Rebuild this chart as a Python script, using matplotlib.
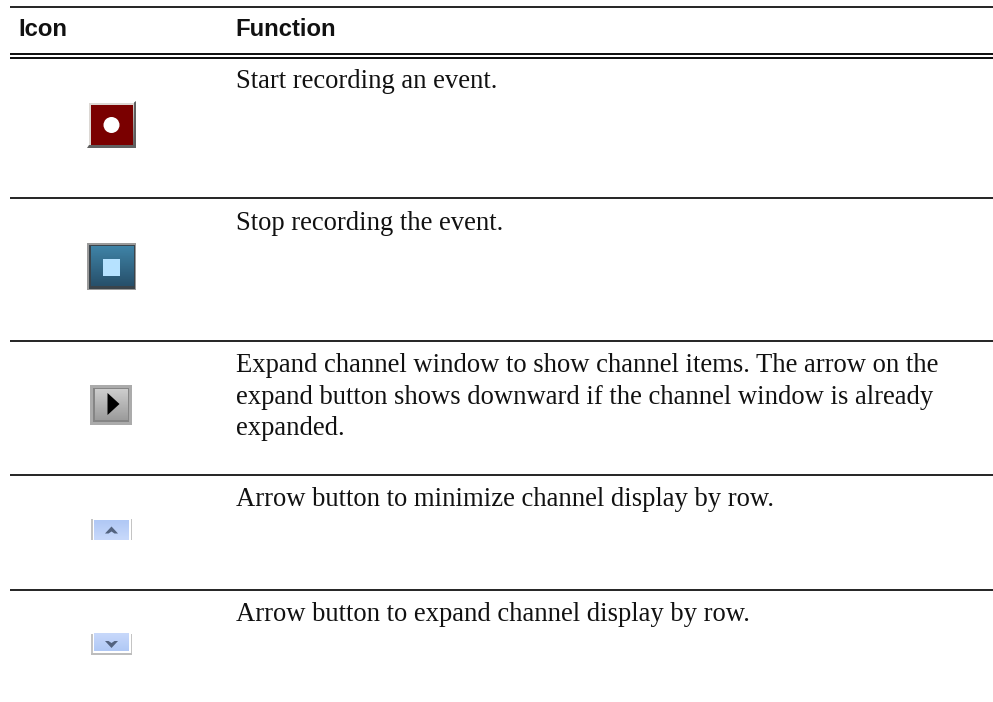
import numpy as np
import matplotlib
matplotlib.use("Agg")
import matplotlib.pyplot as plt
from matplotlib.patches import Rectangle, Polygon, Circle

W, H = 993, 702
headers = ["Icon", "Function"]
functions = [
    ["Start recording an event."],
    ["Stop recording the event."],
    ["Expand channel window to show channel items. The arrow on the",
     "expand button shows downward if the channel window is already",
     "expanded."],
    ["Arrow button to minimize channel display by row."],
    ["Arrow button to expand channel display by row."],
]
first_baselines = [88, 230, 372, 506, 621]
rules = [198, 340.5, 474.5, 589.5]

fig = plt.figure(figsize=(W / 100, H / 100), dpi=100)
ax = fig.add_axes([0, 0, 1, 1])
ax.set_xlim(0, W)
ax.set_ylim(H, 0)
ax.axis("off")

LW = 72 / 100  # points per pixel
def rule(y, t=1.8):
    ax.plot([10, W], [y, y], color="#111111", lw=t * LW, solid_capstyle="butt")

rule(7)
rule(54, 2.0)
rule(58, 2.0)
for y in rules:
    rule(y)

ax.text(18, 36.5, headers[0], family="Liberation Sans", weight="bold", fontsize=17.2, va="baseline", color="#111111")
ax.text(235.8, 36.5, headers[1], family="Liberation Sans", weight="bold", fontsize=17.2, va="baseline", color="#111111")

for lines, y0 in zip(functions, first_baselines):
    for i, line in enumerate(lines):
        ax.text(236, y0 + i * 31.6, line, family="Liberation Serif", fontsize=19.15, va="baseline", color="#111111")

def rect(x0, y0, x1, y1, c, z=2):
    ax.add_patch(Rectangle((x0, y0), x1 - x0, y1 - y0, fc=c, ec="none", zorder=z))

def grad(x0, y0, x1, y1, c0, c1, z=3):
    a = np.array(matplotlib.colors.to_rgb(c0))
    b = np.array(matplotlib.colors.to_rgb(c1))
    t = np.linspace(0, 1, 32)[:, None, None]
    img = a[None, None, :] * (1 - t) + b[None, None, :] * t
    ax.imshow(img, extent=(x0, x1, y1, y0), aspect="auto", zorder=z, interpolation="bilinear")

# record
rect(88.5, 102.5, 134, 146, "#dcd8d4")
ax.add_patch(Polygon([[136, 101], [136, 148], [87, 148], [89, 145], [133, 145], [134, 102.5]], fc="#606060", ec="none", zorder=3))
rect(90.5, 104.5, 133, 144.8, "#7a0000", 4)
ax.add_patch(Circle((111.5, 125), 8, fc="white", ec="none", zorder=5))

# stop
rect(87, 243, 136, 290, "#9a9a9a")
rect(88.5, 244.5, 134.5, 288.5, "#3a444b", 3)
grad(90.5, 246.5, 133, 286.5, "#3f83a6", "#27506b", 4)
rect(103, 259, 120, 276, "#b6e2ff", 5)

# expand
rect(90, 385, 132, 425, "#ababab")
rect(93, 388, 129, 422, "#858585", 3)
grad(94.5, 389.5, 127.5, 420.5, "#cdcdcd", "#9c9c9c", 4)
ax.add_patch(Polygon([[107.5, 393], [119.5, 404], [107.5, 415]], fc="black", ec="none", zorder=5))

# minimize
rect(91, 519, 92.5, 540, "#c4c4c4")
rect(130.5, 519, 132, 540, "#c4c4c4")
grad(94, 520.5, 128.5, 540, "#b0c8f5", "#c8d9fb", 4)
ax.add_patch(Polygon([[105, 533.5], [111.5, 526.5], [118, 533.5], [114.5, 533.5], [111.5, 531.5], [108.5, 533.5]],
                     fc="#53637f", ec="none", zorder=5))

# expand row
rect(91, 634, 92.5, 654.5, "#c4c4c4")
rect(130.5, 634, 132, 654.5, "#c4c4c4")
rect(91, 652.8, 132, 654.5, "#bdbdbd")
grad(94, 634, 128.5, 651.5, "#c8d9fb", "#b0c8f5", 4)
ax.add_patch(Polygon([[105, 641], [111.5, 648], [118, 641], [114.5, 641], [111.5, 643], [108.5, 641]],
                     fc="#53637f", ec="none", zorder=5))

ax.set_xlim(0, W)
ax.set_ylim(H, 0)
fig.savefig("out.png", dpi=100, facecolor="white")
